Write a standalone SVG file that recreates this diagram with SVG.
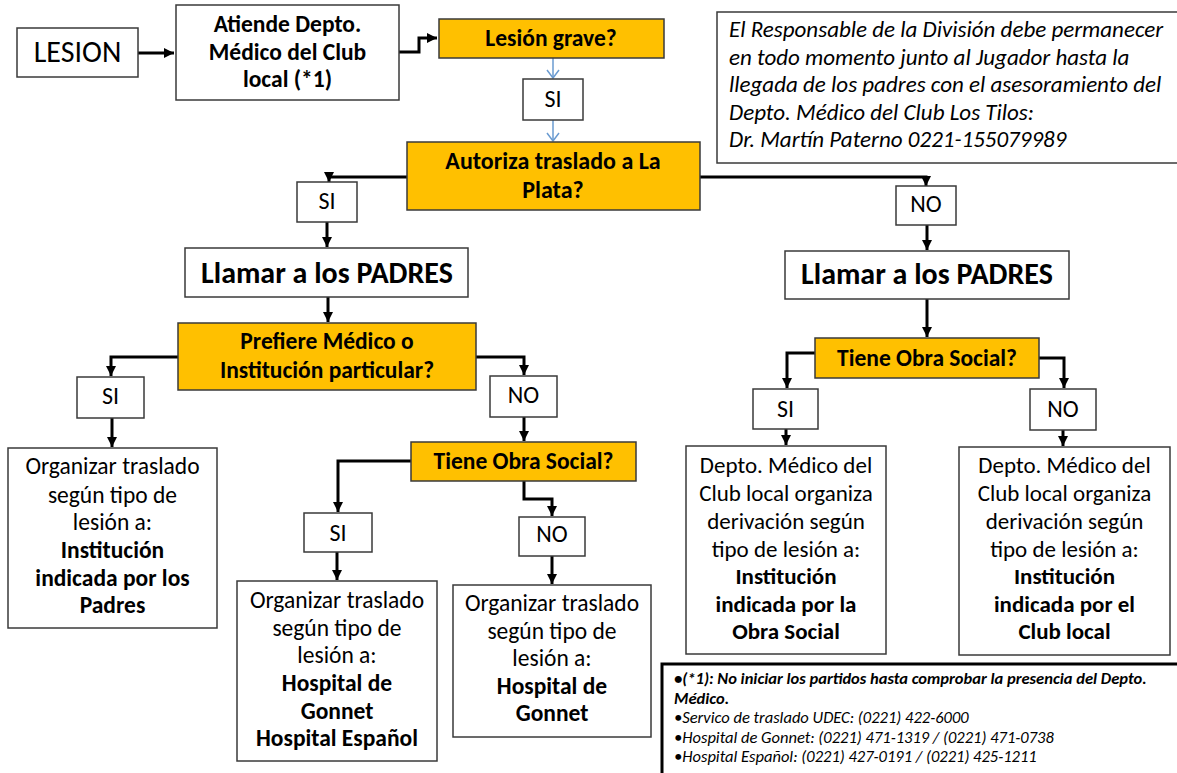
<svg xmlns="http://www.w3.org/2000/svg" width="1177" height="773" viewBox="0 0 1177 773">
<style>
.box{fill:#fff;stroke:#3a3a3a;stroke-width:1.5}
.dec{fill:#FFC000;stroke:#3a3a3a;stroke-width:1.5}
.t{font-family:Carlito,Lato,"Liberation Sans",sans-serif;fill:#000;text-anchor:middle}
.b{font-weight:bold}
.i{font-style:italic}
.l{text-anchor:start}
.conn{fill:none;stroke:#000;stroke-width:3}
.blue{fill:none;stroke:#6A9BD1;stroke-width:1.5}
</style>
<defs>
<marker id="ah" markerUnits="userSpaceOnUse" markerWidth="10" markerHeight="10" refX="10" refY="5" orient="auto"><path d="M0,0L10,5L0,10z" fill="#000"/></marker>
<marker id="bh" markerUnits="userSpaceOnUse" markerWidth="12" markerHeight="14" refX="9" refY="7" orient="auto"><path d="M1,1L9,7L1,13" fill="none" stroke="#6A9BD1" stroke-width="1.5"/></marker>
</defs>
<rect width="1177" height="773" fill="#fff"/>
<g id="connectors">
<path class="conn" d="M138,53H174" marker-end="url(#ah)"/>
<path class="conn" d="M399,52H419V38H437" marker-end="url(#ah)"/>
<path class="blue" d="M553,58V78" marker-end="url(#bh)"/>
<path class="blue" d="M553,120V141" marker-end="url(#bh)"/>
<path class="conn" d="M407,177H329V182" marker-end="url(#ah)"/>
<path class="conn" d="M327,222V247" marker-end="url(#ah)"/>
<path class="conn" d="M328,297V322" marker-end="url(#ah)"/>
<path class="conn" d="M178,357H111V376" marker-end="url(#ah)"/>
<path class="conn" d="M476,357H524V375" marker-end="url(#ah)"/>
<path class="conn" d="M112,418V447" marker-end="url(#ah)"/>
<path class="conn" d="M524,417V441" marker-end="url(#ah)"/>
<path class="conn" d="M411,461H338V512" marker-end="url(#ah)"/>
<path class="conn" d="M524,481V499H552V516" marker-end="url(#ah)"/>
<path class="conn" d="M337,552V580" marker-end="url(#ah)"/>
<path class="conn" d="M552,556V584" marker-end="url(#ah)"/>
<path class="conn" d="M700,177H926V186" marker-end="url(#ah)"/>
<path class="conn" d="M927,225V250" marker-end="url(#ah)"/>
<path class="conn" d="M927,299V337" marker-end="url(#ah)"/>
<path class="conn" d="M815,353H787V388" marker-end="url(#ah)"/>
<path class="conn" d="M1039,358H1064V388" marker-end="url(#ah)"/>
<path class="conn" d="M786,429V445" marker-end="url(#ah)"/>
<path class="conn" d="M1063,430V446" marker-end="url(#ah)"/>
</g>
<g id="lesion"><rect class="box" x="17" y="28" width="121" height="49"/><text class="t" x="77.5" y="62" font-size="30">LESION</text></g>
<g id="atiende"><rect class="box" x="176" y="5" width="223" height="95"/>
<text class="t b" font-size="23.5"><tspan x="287.5" y="32">Atiende Depto.</tspan><tspan x="287.5" y="60">Médico del Club</tspan><tspan x="287.5" y="87">local (*1)</tspan></text></g>
<g id="lesion-grave"><rect class="dec" x="439" y="19" width="225" height="39"/><text class="t b" x="551" y="46" font-size="23.5">Lesión grave?</text></g>
<g id="si-1"><rect class="box" x="523" y="79" width="60" height="41"/><text class="t" x="553" y="107" font-size="24">SI</text></g>
<g id="autoriza"><rect class="dec" x="407" y="142" width="293" height="68"/>
<text class="t b" font-size="24"><tspan x="553" y="169">Autoriza traslado a La</tspan><tspan x="553" y="198">Plata?</tspan></text></g>
<g id="nota"><rect class="box" x="717" y="12" width="462" height="151"/>
<text class="t i l" font-size="23"><tspan x="729" y="37">El Responsable de la División  debe permanecer</tspan><tspan x="729" y="65">en todo momento junto al Jugador hasta la</tspan><tspan x="729" y="92">llegada de los padres con el asesoramiento del</tspan><tspan x="729" y="120">Depto. Médico del Club Los Tilos:</tspan><tspan x="729" y="147">Dr. Martín Paterno 0221-155079989</tspan></text></g>
<g id="si-2"><rect class="box" x="297" y="182" width="60" height="40"/><text class="t" x="327" y="209" font-size="24">SI</text></g>
<g id="no-1"><rect class="box" x="896" y="186" width="60" height="39"/><text class="t" x="926" y="212" font-size="24">NO</text></g>
<g id="llamar-1"><rect class="box" x="185" y="248" width="283" height="49"/><text class="t b" x="327" y="283" font-size="30">Llamar a los PADRES</text></g>
<g id="llamar-2"><rect class="box" x="785" y="251" width="284" height="48"/><text class="t b" x="927" y="284" font-size="30">Llamar a los PADRES</text></g>
<g id="prefiere"><rect class="dec" x="178" y="323" width="298" height="67"/>
<text class="t b" font-size="23.5"><tspan x="327" y="349">Prefiere Médico o</tspan><tspan x="327" y="378">Institución particular?</tspan></text></g>
<g id="tiene-2"><rect class="dec" x="815" y="338" width="224" height="40"/><text class="t b" x="927" y="366" font-size="23.5">Tiene Obra Social?</text></g>
<g id="si-3"><rect class="box" x="77" y="377" width="67" height="41"/><text class="t" x="110.5" y="404" font-size="24">SI</text></g>
<g id="no-2"><rect class="box" x="490" y="376" width="67" height="41"/><text class="t" x="523.5" y="403" font-size="24">NO</text></g>
<g id="si-5"><rect class="box" x="753" y="389" width="65" height="40"/><text class="t" x="785.5" y="417" font-size="24">SI</text></g>
<g id="no-4"><rect class="box" x="1030" y="389" width="66" height="41"/><text class="t" x="1063" y="417" font-size="24">NO</text></g>
<g id="tiene-1"><rect class="dec" x="411" y="442" width="225" height="39"/><text class="t b" x="523.5" y="469" font-size="23.5">Tiene Obra Social?</text></g>
<g id="org-padres"><rect class="box" x="8" y="448" width="209" height="180"/>
<text class="t" font-size="23.5"><tspan x="112.5" y="474">Organizar traslado</tspan><tspan x="112.5" y="503">según tipo de</tspan><tspan x="112.5" y="530">lesión a:</tspan><tspan class="b" x="112.5" y="558">Institución</tspan><tspan class="b" x="112.5" y="586">indicada por los</tspan><tspan class="b" x="112.5" y="613">Padres</tspan></text></g>
<g id="si-4"><rect class="box" x="304" y="513" width="68" height="39"/><text class="t" x="338" y="541" font-size="24">SI</text></g>
<g id="no-3"><rect class="box" x="519" y="517" width="66" height="39"/><text class="t" x="552" y="542" font-size="24">NO</text></g>
<g id="org-gonnet-esp"><rect class="box" x="237" y="581" width="200" height="180"/>
<text class="t" font-size="23.5"><tspan x="337" y="608">Organizar traslado</tspan><tspan x="337" y="636">según tipo de</tspan><tspan x="337" y="663">lesión a:</tspan><tspan class="b" x="337" y="691">Hospital de</tspan><tspan class="b" x="337" y="719">Gonnet</tspan><tspan class="b" x="337" y="746">Hospital Español</tspan></text></g>
<g id="org-gonnet"><rect class="box" x="453" y="585" width="198" height="152"/>
<text class="t" font-size="23.5"><tspan x="552" y="611">Organizar traslado</tspan><tspan x="552" y="639">según tipo de</tspan><tspan x="552" y="666">lesión a:</tspan><tspan class="b" x="552" y="694">Hospital de</tspan><tspan class="b" x="552" y="721">Gonnet</tspan></text></g>
<g id="depto-obra"><rect class="box" x="686" y="446" width="200" height="208"/>
<text class="t" font-size="23"><tspan x="786" y="473">Depto. Médico del</tspan><tspan x="786" y="501">Club local organiza</tspan><tspan x="786" y="529">derivación según</tspan><tspan x="786" y="557">tipo de lesión a:</tspan><tspan class="b" x="786" y="584">Institución</tspan><tspan class="b" x="786" y="612">indicada por la</tspan><tspan class="b" x="786" y="639">Obra Social</tspan></text></g>
<g id="depto-club"><rect class="box" x="959" y="447" width="211" height="208"/>
<text class="t" font-size="23"><tspan x="1064.5" y="473">Depto. Médico del</tspan><tspan x="1064.5" y="501">Club local organiza</tspan><tspan x="1064.5" y="529">derivación según</tspan><tspan x="1064.5" y="557">tipo de lesión a:</tspan><tspan class="b" x="1064.5" y="584">Institución</tspan><tspan class="b" x="1064.5" y="612">indicada por el</tspan><tspan class="b" x="1064.5" y="639">Club local</tspan></text></g>
<g id="footnote"><rect x="662" y="664" width="530" height="130" fill="#fff" stroke="#000" stroke-width="3"/>
<text class="t i l" font-size="16.5"><tspan class="b" x="674" y="684">•(*1): No iniciar los partidos hasta comprobar la presencia del Depto.</tspan><tspan class="b" x="674" y="704">Médico.</tspan><tspan x="674" y="723">•Servico de traslado UDEC: (0221) 422-6000</tspan><tspan x="674" y="743">•Hospital de Gonnet: (0221) 471-1319 / (0221) 471-0738</tspan><tspan x="674" y="762">•Hospital Español: (0221) 427-0191 / (0221) 425-1211</tspan></text></g>
</svg>
